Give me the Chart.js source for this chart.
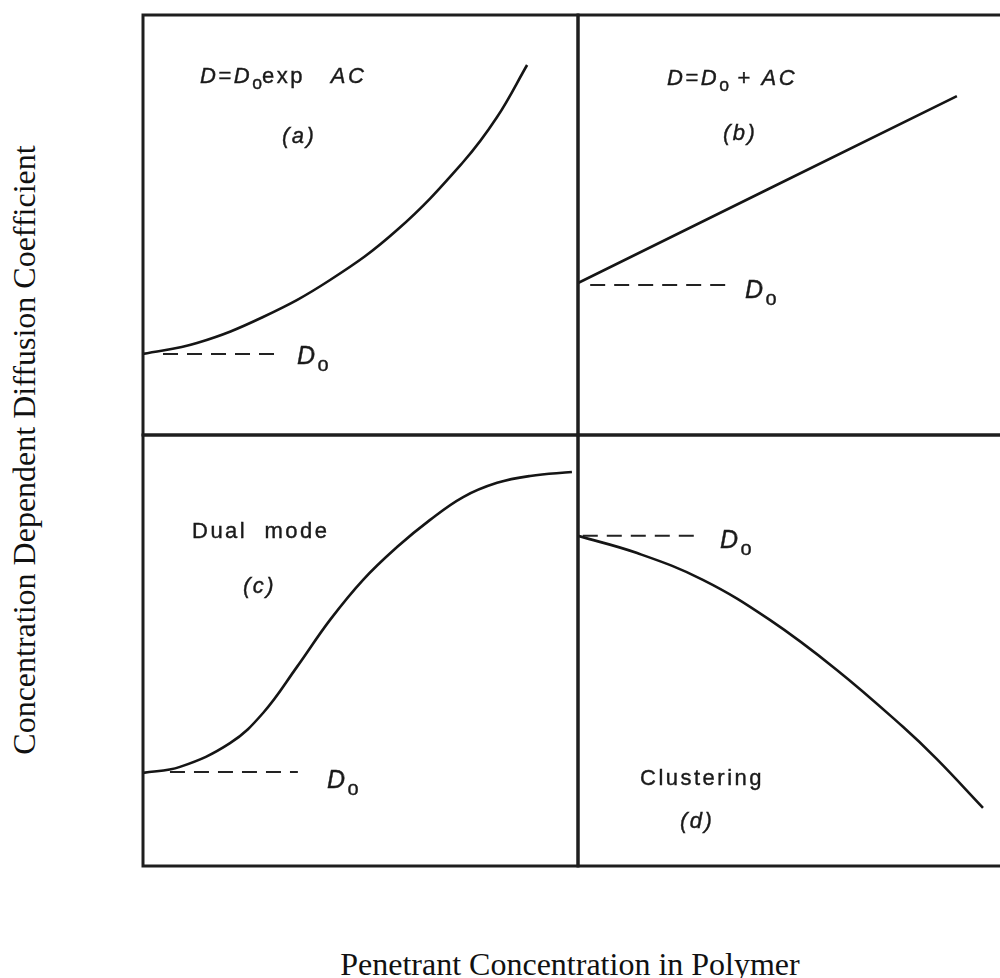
<!DOCTYPE html>
<html>
<head>
<meta charset="utf-8">
<script src="https://cdn.jsdelivr.net/npm/chart.js@4.4.1/dist/chart.umd.min.js"></script>
<style>
    html, body { margin: 0; padding: 0; background: #fff; overflow: hidden; }
    #page { position: relative; width: 1000px; height: 978px; overflow: hidden; }
    canvas { position: absolute; }
    .lbl {
        position: absolute; white-space: nowrap; line-height: 1;
        font-family: "Liberation Sans", Arial, sans-serif; color: #1a1a1a;
        letter-spacing: 2.5px; -webkit-text-stroke: 0.4px #1a1a1a;
    }
    .lbl i { font-style: italic; }
    .lbl sub { font-size: 0.8em; vertical-align: -0.35em; line-height: 0; letter-spacing: 0; }
    .axis-title {
        position: absolute; white-space: nowrap; line-height: 32px;
        font-family: "Liberation Serif", "Times New Roman", serif; font-size: 32px; color: #111;
        text-align: center;
    }
</style>
</head>
<body>
<div id="page"></div>
<script>
// Penetrant concentration (x) and diffusion coefficient (y), arbitrary units 0-100 per panel
const concA = [0, 12.4, 27.6, 43.0, 58.4, 73.6, 81.4, 88.3];
const diffA = [19.3, 21.9, 28.1, 36.9, 48.8, 65.0, 75.7, 88.1];
const concB = [0, 87.1];
const diffB = [36.2, 80.7];
const concC = [0, 8.5, 20.0, 27.6, 35.4, 43.0, 50.6, 58.4, 66.0, 73.6, 81.4, 89.0, 98.6];
const diffC = [21.6, 23.0, 28.5, 35.5, 46.2, 57.1, 66.4, 74.0, 80.3, 85.6, 88.9, 90.5, 91.4];
const concD = [0, 13.6, 28.7, 44.1, 59.5, 74.7, 82.5, 93.1];
const diffD = [76.6, 72.6, 66.4, 57.1, 45.5, 32.3, 24.8, 13.5];

// dashed D0 reference line per panel (a, b, c, d)
const d0Level = [19.3, 35.7, 21.8, 76.6];
const d0Start = [4.6, 2.8, 6.2, 1.1];
const d0End = [31.0, 34.5, 35.6, 28.0];

const xTitle = 'Penetrant Concentration in Polymer';
const yTitle = 'Concentration Dependent Diffusion Coefficient';

const page = document.getElementById('page');
const PAD = 6;

const panels = [
    { left: 143, top: 15, w: 435, h: 420, x: concA, y: diffA },
    { left: 578, top: 15, w: 435, h: 420, x: concB, y: diffB },
    { left: 143, top: 435, w: 435, h: 431, x: concC, y: diffC },
    { left: 578, top: 435, w: 435, h: 431, x: concD, y: diffD }
];

const boxPlugin = {
    id: 'box',
    afterDraw(chart) {
        const { ctx, chartArea: a } = chart;
        ctx.save();
        ctx.strokeStyle = '#1e1e1e';
        ctx.lineWidth = 3;
        ctx.strokeRect(a.left, a.top, a.right - a.left, a.bottom - a.top);
        ctx.restore();
    }
};

panels.forEach((p, i) => {
    const cv = document.createElement('canvas');
    cv.width = p.w + PAD * 2;
    cv.height = p.h + PAD * 2;
    cv.style.left = (p.left - PAD) + 'px';
    cv.style.top = (p.top - PAD) + 'px';
    page.appendChild(cv);

    new Chart(cv.getContext('2d'), {
        type: 'line',
        data: {
            datasets: [
                {
                    data: p.x.map((v, k) => ({ x: v, y: p.y[k] })),
                    borderColor: '#151515',
                    borderWidth: 2.6,
                    pointRadius: 0,
                    tension: 0.4,
                    fill: false
                },
                {
                    data: [{ x: d0Start[i], y: d0Level[i] }, { x: d0End[i], y: d0Level[i] }],
                    borderColor: '#222',
                    borderWidth: 2,
                    borderDash: [15, 9],
                    pointRadius: 0,
                    fill: false
                }
            ]
        },
        options: {
            responsive: false,
            animation: false,
            layout: { padding: PAD },
            plugins: { legend: { display: false }, tooltip: { enabled: false } },
            scales: {
                x: { type: 'linear', min: 0, max: 100, display: false },
                y: { type: 'linear', min: 0, max: 100, display: false }
            }
        },
        plugins: [boxPlugin]
    });
});

// annotation text: x = left edge, b = baseline (page px)
function label(x, b, size, html) {
    const el = document.createElement('div');
    el.className = 'lbl';
    el.style.fontSize = size + 'px';
    el.style.left = x + 'px';
    el.style.top = (b - 0.8465 * size) + 'px';
    el.innerHTML = html;
    page.appendChild(el);
}

const D0 = '<i>D</i><sub>o</sub>';
label(200, 84, 22, '<i>D</i>=' + D0 + 'exp&nbsp;&nbsp;&nbsp;<i>AC</i>');
label(282, 144, 22, '<i>(a)</i>');
label(297, 364, 25, D0);

label(667, 86, 22, '<i>D</i>=' + D0 + '&nbsp;+&nbsp;<i>AC</i>');
label(723, 141, 22, '<i>(b)</i>');
label(745, 298, 25, D0);

label(192, 539, 22, 'Dual&nbsp;&nbsp;mode');
label(243, 594, 22, '<i>(c)</i>');
label(327, 788, 25, D0);

label(720, 548, 25, D0);
label(640, 786, 22, 'Clustering');
label(680, 829, 22, '<i>(d)</i>');

const xt = document.createElement('div');
xt.className = 'axis-title';
xt.textContent = xTitle;
xt.style.left = '270px';
xt.style.width = '600px';
xt.style.top = (975 - 26.8) + 'px';
page.appendChild(xt);

const yt = document.createElement('div');
yt.className = 'axis-title';
yt.textContent = yTitle;
yt.style.width = '700px';
yt.style.height = '32px';
yt.style.left = (24 - 350) + 'px';
yt.style.top = (450 - 16) + 'px';
yt.style.transform = 'rotate(-90deg)';
page.appendChild(yt);
</script>
</body>
</html>
